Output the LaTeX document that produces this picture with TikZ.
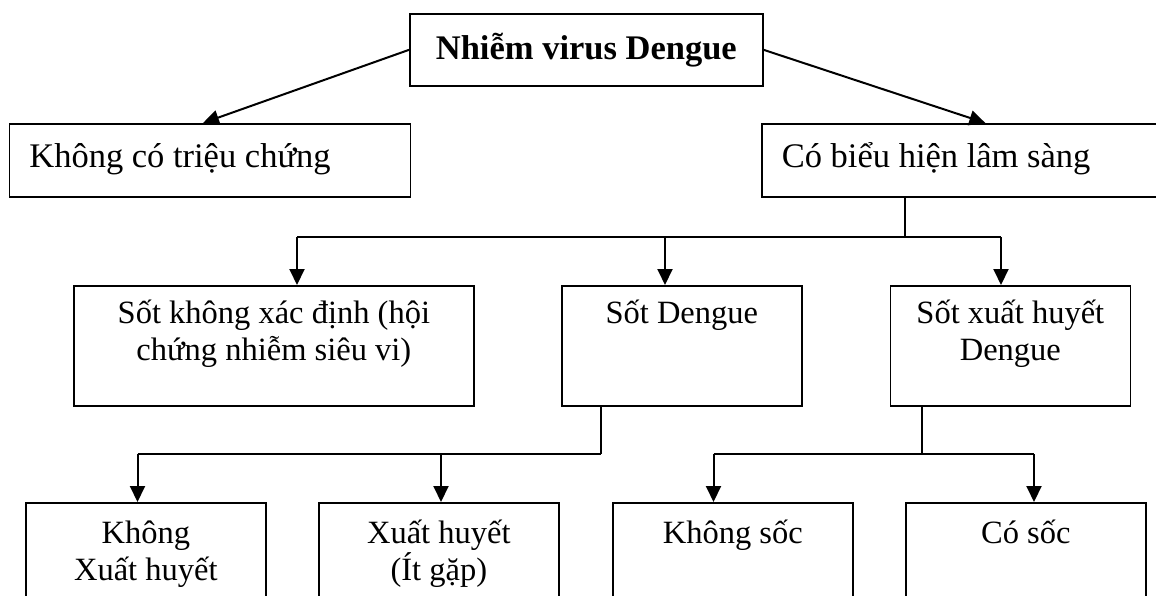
\documentclass[tikz,border=0pt]{standalone}
\usepackage{fontspec}
\setmainfont{Liberation Serif}
\usetikzlibrary{arrows.meta}

\begin{document}
\begin{tikzpicture}[x=1pt,y=-1pt,
		box/.style={draw,line width=1.7pt,inner sep=0pt,anchor=north west,align=flush center,
			text width=#1,font=\fontsize{32.5}{37}\selectfont},
		lbox/.style={box=#1,inner xsep=20pt,align=flush left,font=\fontsize{34.5}{40}\selectfont},
		arr/.style={line width=2pt,-{Triangle[length=16pt,width=15pt]}},
		fork/.style={line width=2pt},
		stub/.style={line width=1.3pt}]
		\useasboundingbox (0,0) rectangle (1156,596);
		\clip (0,0) rectangle (1156,596);
		% first level
		\node[box=353pt,text height=46pt,text depth=26pt,font=\fontsize{34.5}{40}\selectfont\bfseries]
			(infect) at (409,13) {Nhiễm virus Dengue};
		\node[lbox=361pt,text height=44pt,text depth=29pt] (nosign) at (8.5,123) {Không có triệu chứng};
		\node[lbox=407pt,text height=44pt,text depth=29pt] (clinic) at (761,123) {Có biểu hiện lâm sàng};
		\draw[arr] (infect.west) -- (nosign.north -| 203,123);
		\draw[arr] (infect.east) -- (clinic.north);
		% second level
		\node[box=400pt,text height=38pt,text depth=82pt] (undiff) at (73,285) {Sốt không xác định (hội\\chứng nhiễm siêu vi)};
		\node[box=240pt,text height=38pt,text depth=82pt] (df) at (561,285) {Sốt Dengue};
		\node[box=240pt,text height=38pt,text depth=82pt] (dhf) at (889.5,285) {Sốt xuất huyết\\Dengue};
		\coordinate (clinfork) at (905,237);
		\draw[stub] (clinic.south -| clinfork) -- (clinfork);
		\draw[fork] (297,237) -- (1001,237);
		\foreach \n/\x in {undiff/297, df/665, dhf/1001}
		\draw[arr] (\x,237) -- (\n.north -| \x,237);
		% third level
		\node[box=240pt,text height=41pt,text depth=79pt] (nobleed) at (25,502) {Không\\Xuất huyết};
		\node[box=240pt,text height=41pt,text depth=79pt] (bleed) at (318,502) {Xuất huyết\\(Ít gặp)};
		\node[box=240pt,text height=41pt,text depth=79pt] (noshock) at (612,502) {Không sốc};
		\node[box=240pt,text height=41pt,text depth=79pt] (shock) at (905,502) {Có sốc};
		\coordinate (dffork) at (601,454);
		\coordinate (dhffork) at (922,454);
		\draw[stub] (df.south -| dffork) -- (dffork);
		\draw[stub] (dhf.south -| dhffork) -- (dhffork);
		\draw[fork] (137.5,454) -- (dffork);
		\draw[fork] (713.5,454) -- (1034,454);
		\foreach \n/\x in {nobleed/137.5, bleed/441, noshock/713.5, shock/1034}
		\draw[arr] (\x,454) -- (\n.north -| \x,454);
	\end{tikzpicture}
\end{document}
